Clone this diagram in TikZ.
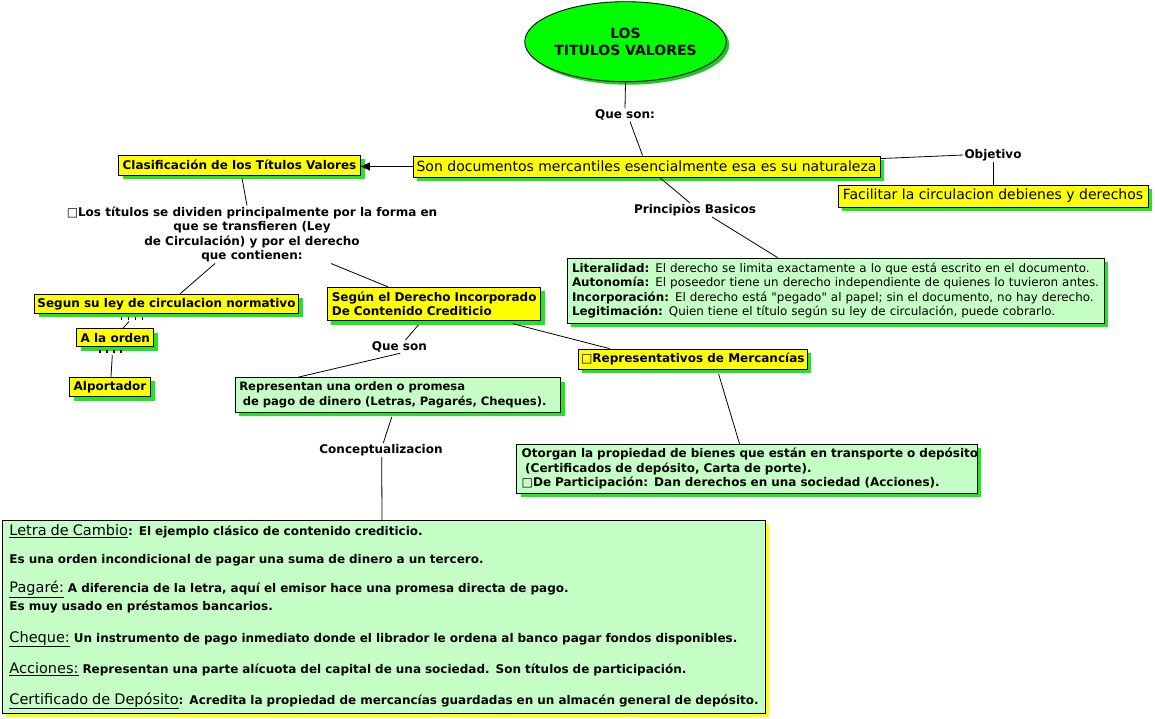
\documentclass[tikz,border=0pt]{standalone}
\usepackage{fontspec}
\setmainfont{DejaVu Sans}
\usetikzlibrary{shadows,arrows.meta,shapes.geometric,calc}
\definecolor{yfill}{HTML}{FFFF00}
\definecolor{gfill}{HTML}{C6FFC6}
\definecolor{shgreen}{HTML}{22E622}
\definecolor{ellgreen}{HTML}{00FF00}
\definecolor{ellshadow}{HTML}{22C822}
\newcommand\hdline[1]{{\mdseries\fontsize{14.5}{20}\selectfont\underline{#1}}}
\tikzset{
  boldfont/.style={font=\bfseries\fontsize{12}{14.5}\selectfont},
  bigfont/.style={font=\fontsize{14}{17}\selectfont},
  boxbase/.style={draw=black, line width=0.9pt, inner sep=0pt, anchor=center,
    drop shadow={fill=shgreen, opacity=1, shadow xshift=4pt, shadow yshift=-4pt}},
  ybox/.style={boxbase, fill=yfill, boldfont},
  ybig/.style={boxbase, fill=yfill, bigfont},
  gbox/.style={boxbase, fill=gfill, boldfont},
  lbl/.style={boldfont, inner sep=1pt},
  conn/.style={draw=black, line width=0.8pt},
  tickrow/.style={draw=black, line width=3.4pt, dash pattern=on 1.2pt off 5.8pt},
}
\begin{document}
\begin{tikzpicture}[x=1pt,y=-1pt]
\useasboundingbox (0,0) rectangle (1155,718);
\fill[white] (0,0) rectangle (1155,718);

% central ellipse
\node[ellipse, draw=black, line width=0.9pt, fill=ellgreen, minimum width=189pt, minimum height=80pt,
  inner sep=0pt, align=center, font=\bfseries\fontsize{14}{17}\selectfont,
  drop shadow={fill=ellshadow, opacity=1, shadow xshift=3pt, shadow yshift=-3pt}]
  (ell) at (625.5,41.7) {LOS\\TITULOS VALORES};

% labels
\node[lbl] (qs) at (625,115) {Que son:};
\node[lbl] (obj) at (993,155) {Objetivo};
\node[lbl] (pb) at (695,210) {Principios Basicos};
\node[lbl, align=center] (desc) at (252,234.5) {□Los títulos se dividen principalmente por la forma en\\que se transfieren (Ley\\de Circulación) y por el derecho\\que contienen:};
\node[lbl] (qs2) at (399.3,346.7) {Que son};
\node[lbl] (cc) at (381,450) {Conceptualizacion};

% boxes
\node[ybig, minimum width=467pt, minimum height=21pt] (son) at (646.5,166.5) {Son documentos mercantiles esencialmente esa es su naturaleza};
\node[ybox, minimum width=242pt, minimum height=20pt] (clas) at (239.5,165) {Clasificación de los Títulos Valores};
\node[ybig, minimum width=310pt, minimum height=22pt] (facil) at (993,196) {Facilitar la circulacion debienes y derechos};
\node[gbox, text width=527pt, inner xsep=5pt, minimum height=65pt, align=left, font=\fontsize{11.9}{14.5}\selectfont] (princ) at (835.5,290.5)
  {\mbox{\textbf{Literalidad:} El derecho se limita exactamente a lo que está escrito en el documento.}\\
   \mbox{\textbf{Autonomía:} El poseedor tiene un derecho independiente de quienes lo tuvieron antes.}\\
   \mbox{\textbf{Incorporación:} El derecho está \textquotedbl pegado\textquotedbl{} al papel; sin el documento, no hay derecho.}\\
   \mbox{\textbf{Legitimación:} Quien tiene el título según su ley de circulación, puede cobrarlo.}};
\node[ybox, minimum width=264pt, minimum height=19pt] (segun) at (166.5,303.8) {Segun su ley de circulacion normativo};
\node[ybox, minimum width=77pt, minimum height=18pt] (alo) at (115.3,337.8) {A la orden};
\node[ybox, minimum width=81pt, minimum height=19.4pt] (alp) at (110,387) {Alportador};
\node[ybox, text width=204.4pt, inner xsep=4.4pt, minimum height=33.4pt, align=left] (segder) at (434,304)
  {\mbox{Según el Derecho Incorporado}\\\mbox{De Contenido Crediticio}};
\node[gbox, text width=317pt, inner xsep=4.3pt, minimum height=34.6pt, align=left, font=\bfseries\fontsize{11.6}{14.5}\selectfont] (repr) at (397.8,395)
  {\mbox{Representan una orden o promesa}\\\mbox{\hspace*{3.5pt}de pago de dinero (Letras, Pagarés, Cheques).}};
\node[ybox, minimum width=229pt, minimum height=20.3pt] (repmer) at (692.8,359.2) {□Representativos de Mercancías};
\node[gbox, text width=450.6pt, inner xsep=5pt, minimum height=49pt, align=left] (otor) at (747,468.8)
  {\mbox{Otorgan la propiedad de bienes que están en transporte o depósito}\\
   \mbox{\hspace*{3.5pt}(Certificados de depósito, Carta de porte).}\\
   \mbox{□De Participación: Dan derechos en una sociedad (Acciones).}};
\node[boxbase, fill=gfill, anchor=north west, text width=748pt, inner xsep=7.5pt, inner ysep=0pt,
  minimum height=193pt, align=left, font=\bfseries\fontsize{12}{20}\selectfont,
  drop shadow={fill=yfill, opacity=1, shadow xshift=4pt, shadow yshift=-4pt}] (bot) at (1.5,520)
  {\mbox{\hdline{Letra de Cambio}: El ejemplo clásico de contenido crediticio.}\\[7.6pt]
   \mbox{Es una orden incondicional de pagar una suma de dinero a un tercero.}\\[9.4pt]
   \mbox{\hdline{Pagaré:} A diferencia de la letra, aquí el emisor hace una promesa directa de pago.}\\[-2pt]
   \mbox{Es muy usado en préstamos bancarios.}\\[11.3pt]
   \mbox{\hdline{Cheque:} Un instrumento de pago inmediato donde el librador le ordena al banco pagar fondos disponibles.}\\[11.7pt]
   \mbox{\hdline{Acciones:} Representan una parte alícuota del capital de una sociedad. Son títulos de participación.}\\[10.5pt]
   \mbox{\hdline{Certificado de Depósito}: Acredita la propiedad de mercancías guardadas en un almacén general de depósito.}};

% connectors
\draw[conn] (ell.south) -- (qs.north);
\draw[conn] ($(qs.south)+(5,0)$) -- ($(son.north west)+(230,0)$);
\draw[conn, -{Triangle[length=9pt,width=8pt]}] (son.west) -- (son.west -| clas.east);
\draw[conn] ($(son.north east)+(0,3)$) -- (obj.west);
\draw[conn] (obj.south) -- (facil.north);
\draw[conn] ($(son.south west)+(247,0)$) -- ($(pb.north)+(-5,0)$);
\draw[conn] ($(pb.south)+(17,0)$) -- ($(princ.north west)+(211,0)$);
\draw[conn] ($(clas.south west)+(124,3)$) -- ($(desc.north)+(-5,0)$);
\draw[conn] ($(desc.south)+(-37,0)$) -- ($(segun.north west)+(146,0)$);
\draw[conn] ($(desc.south)+(79,0)$) -- ($(segder.north west)+(61,0)$);
\draw[tickrow] ($(segun.south west)+(87,5)$) -- ++(24,0);
\draw[conn] ($(segun.south west)+(95,7.7)$) -- ($(alo.north west)+(46.6,0)$);
\draw[tickrow] ($(alo.south west)+(23,4.5)$) -- ++(24,0);
\draw[conn] ($(alo.south)+(-3,8)$) -- ($(alp.north)+(1,0)$);
\draw[conn] ($(segder.south west)+(91.7,3.5)$) -- ($(qs2.north)+(6,0)$);
\draw[conn] ($(qs2.south)+(1,0)$) -- ($(repr.north west)+(63.3,0)$);
\draw[conn] ($(repr.south west)+(157.3,4)$) -- ($(cc.north)+(2.3,0)$);
\draw[conn] ($(cc.south)+(0.7,0)$) -- ($(bot.north west)+(380.5,0)$);
\draw[conn] ($(segder.south west)+(186,2.6)$) -- ($(repmer.north west)+(31.7,0)$);
\draw[conn] ($(repmer.south west)+(140.7,4)$) -- ($(otor.north west)+(223.3,0)$);
\end{tikzpicture}
\end{document}
